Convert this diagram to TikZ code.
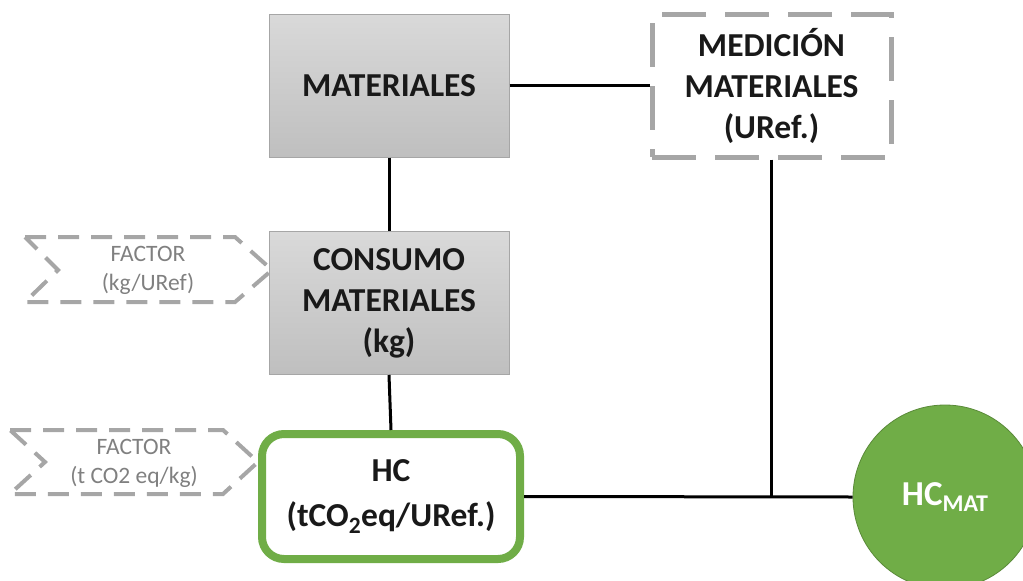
\documentclass[tikz,border=0pt]{standalone}
\usepackage{fontspec}
\setmainfont{Carlito}
\definecolor{boxgrayA}{HTML}{D9D9D9}
\definecolor{boxgrayB}{HTML}{BFBFBF}
\definecolor{edgegray}{HTML}{A6A6A6}
\definecolor{dashgray}{HTML}{A6A6A6}
\definecolor{factortext}{HTML}{808080}
\definecolor{hcgreen}{HTML}{70AD47}
\begin{document}
\begin{tikzpicture}[x=1pt,y=-1pt,
  graybox/.style={draw=edgegray,line width=1pt,top color=boxgrayA,bottom color=boxgrayB,
    minimum width=240pt,minimum height=143pt,align=center,inner sep=0pt,
    font=\fontsize{33.5}{41}\selectfont\bfseries,text=black!90},
  dashbox/.style={draw=dashgray,line width=5pt,dash pattern=on 44pt off 19pt,
    minimum width=239pt,minimum height=143pt,align=center,inner sep=0pt,
    font=\fontsize{33.5}{41}\selectfont\bfseries,text=black!90},
  hcbox/.style={draw=hcgreen,line width=8pt,rounded corners=22pt,fill=white,
    minimum width=258pt,minimum height=125pt,align=center,inner sep=0pt,
    font=\fontsize{33.5}{45}\selectfont\bfseries,text=black!90},
  hcircle/.style={circle,fill=hcgreen,draw=hcgreen!80!black,line width=0.8pt,
    minimum size=184pt,inner sep=0pt,text=white,font=\fontsize{35}{35}\selectfont\bfseries},
  factorline/.style={draw=dashgray,line width=4pt,dash pattern=on 21pt off 12pt},
  factortxt/.style={align=center,text=factortext,font=\fontsize{23.5}{29}\selectfont},
  link/.style={draw=black,line width=3pt}
]
\useasboundingbox (0,0) rectangle (1023,581);

% dashed chevrons for the two factors
\draw[factorline] (25,237) -- (235,237) -- (272,270) -- (235,302) -- (25,302) -- (58,270) -- cycle;
\node[factortxt] (f1) at (148,270) {FACTOR\\(kg/URef)};
\draw[factorline] (10,430) -- (223,430) -- (258,462) -- (223,494) -- (10,494) -- (45,462) -- cycle;
\node[factortxt] (f2) at (134,463) {FACTOR\\(t CO2 eq/kg)};

% main boxes
\node[graybox] (mat) at (389,85.5) {MATERIALES};
\node[dashbox] (med) at (771.5,85.5) {MEDICIÓN\\MATERIALES\\(URef.)};
\node[graybox] (con) at (389,303) {CONSUMO\\MATERIALES\\(kg)};
\node[hcbox] (hc) at (391,496.5) {HC\\(tCO\textsubscript{2}eq/URef.)};
\node[hcircle] (hcm) at (945,497) {HC\raisebox{-0.35ex}{\fontsize{24}{24}\selectfont MAT}};

% connectors
\coordinate (j) at (med.south |- hc.east);
\draw[link] (mat.east) -- (med.west);
\draw[link] (mat.south) -- (con.north);
\draw[link] (con.south) -- (hc.north);
\draw[link] (hc.east) -- (hcm.west);
\draw[link] (med.south) -- (j);
\end{tikzpicture}
\end{document}
